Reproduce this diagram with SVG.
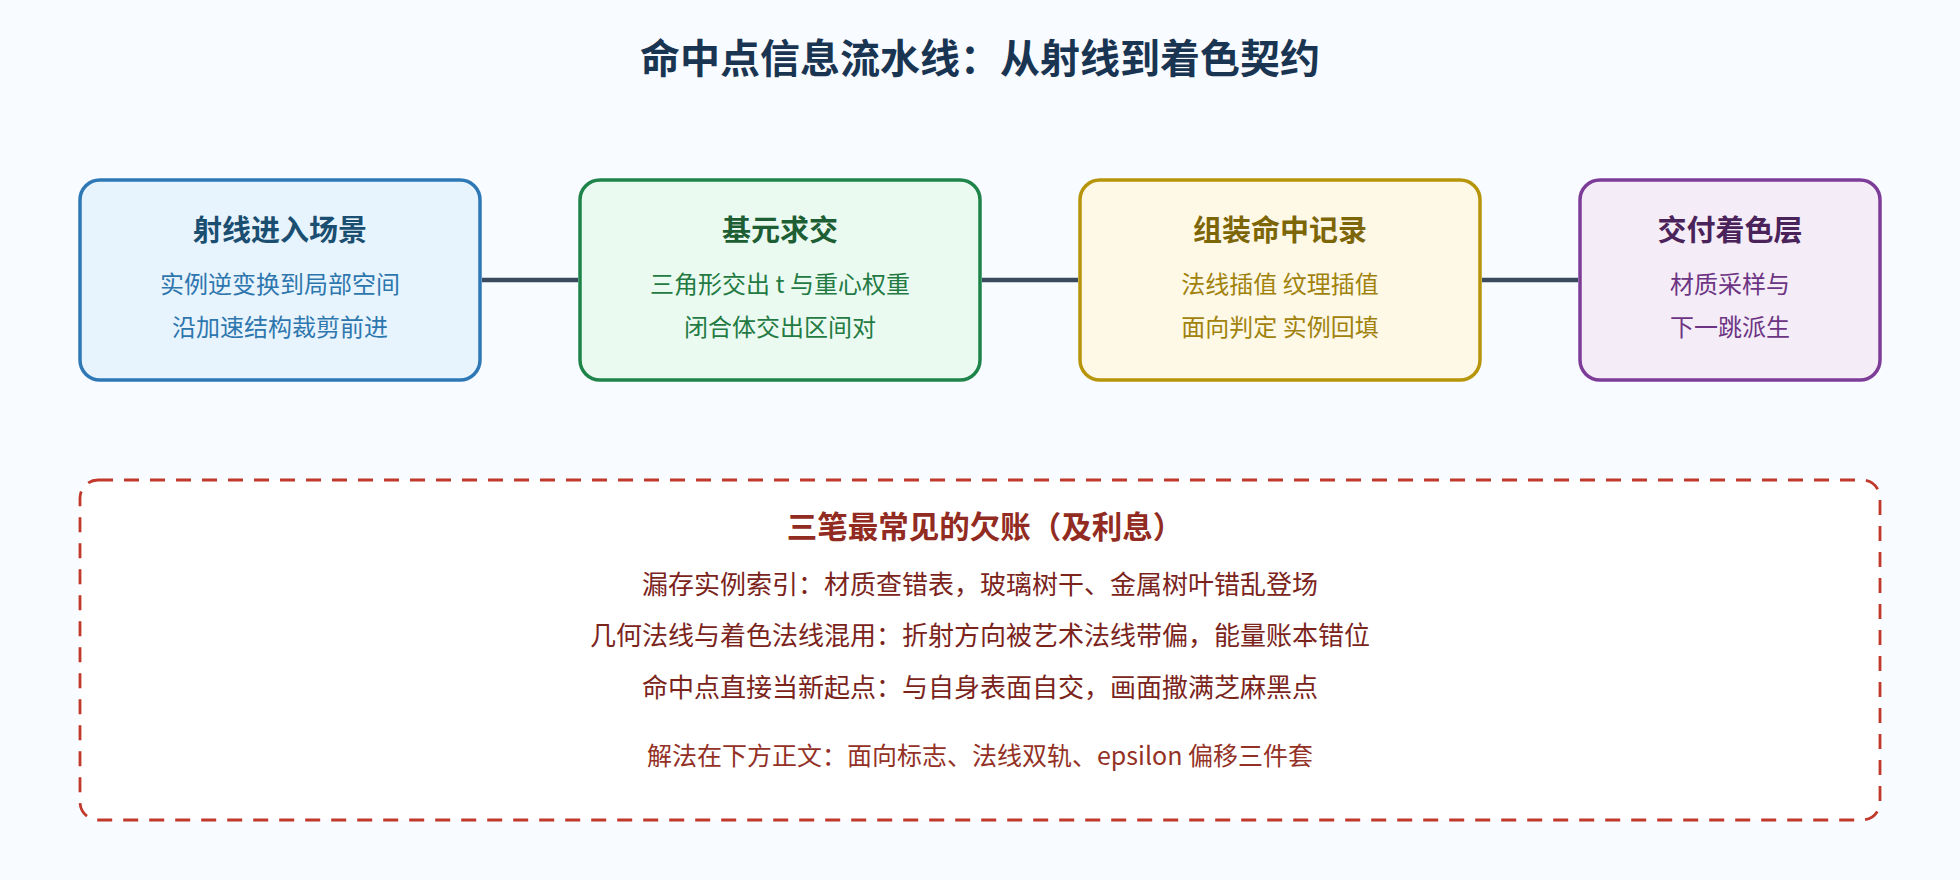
<svg xmlns="http://www.w3.org/2000/svg" width="1960" height="880" viewBox="0 0 1960 880">
  <style>
    text { font-family: "Noto Sans CJK SC", "Noto Sans", sans-serif; text-anchor: middle; }
    .title { font-size: 40px; font-weight: 700; fill: #1a3552; }
    .head { font-size: 29px; font-weight: 700; }
    .sub { font-size: 24px; }
    .box { stroke-width: 3.5; }
    .conn { stroke: #3b4b5e; stroke-width: 4.5; fill: none; }
    .line { font-size: 26px; fill: #7b241c; }
  </style>
  <rect x="0" y="0" width="1960" height="880" fill="#f8fbff"/>
  <text class="title" x="980" y="73">命中点信息流水线：从射线到着色契约</text>

  <g id="connectors">
    <line class="conn" x1="482" y1="280" x2="578" y2="280"/>
    <line class="conn" x1="982" y1="280" x2="1078" y2="280"/>
    <line class="conn" x1="1482" y1="280" x2="1578" y2="280"/>
  </g>

  <g id="node-ray">
    <rect class="box" x="80" y="180" width="400" height="200" rx="20" fill="#e8f4fd" stroke="#2e78b6"/>
    <text class="head" x="280" y="241" fill="#1b4f72">射线进入场景</text>
    <text class="sub" x="280" y="293" fill="#2e77ae">实例逆变换到局部空间</text>
    <text class="sub" x="280" y="336" fill="#2e77ae">沿加速结构裁剪前进</text>
  </g>

  <g id="node-intersect">
    <rect class="box" x="580" y="180" width="400" height="200" rx="20" fill="#eafaf1" stroke="#1e8449"/>
    <text class="head" x="780" y="241" fill="#1d5e34">基元求交</text>
    <text class="sub" x="780" y="293" fill="#237a43" xml:space="preserve">三角形交出 t 与重心权重</text>
    <text class="sub" x="780" y="336" fill="#237a43">闭合体交出区间对</text>
  </g>

  <g id="node-record">
    <rect class="box" x="1080" y="180" width="400" height="200" rx="20" fill="#fef8e7" stroke="#b7950b"/>
    <text class="head" x="1280" y="241" fill="#7d6608">组装命中记录</text>
    <text class="sub" x="1280" y="293" fill="#a0820c">法线插值 纹理插值</text>
    <text class="sub" x="1280" y="336" fill="#a0820c">面向判定 实例回填</text>
  </g>

  <g id="node-shade">
    <rect class="box" x="1580" y="180" width="300" height="200" rx="20" fill="#f4ecf7" stroke="#7d3c98"/>
    <text class="head" x="1730" y="241" fill="#4a235a">交付着色层</text>
    <text class="sub" x="1730" y="293" fill="#6c3483">材质采样与</text>
    <text class="sub" x="1730" y="336" fill="#6c3483">下一跳派生</text>
  </g>

  <g id="node-debts">
    <rect x="80" y="480" width="1800" height="340" rx="18" fill="#ffffff" stroke="#c0392b" stroke-width="2.8" stroke-dasharray="15 11"/>
    <text x="985" y="538" font-size="30.5" font-weight="700" fill="#922b21">三笔最常见的欠账（及利息）</text>
    <text class="line" x="980" y="594">漏存实例索引：材质查错表，玻璃树干、金属树叶错乱登场</text>
    <text class="line" x="980" y="645">几何法线与着色法线混用：折射方向被艺术法线带偏，能量账本错位</text>
    <text class="line" x="980" y="697">命中点直接当新起点：与自身表面自交，画面撒满芝麻黑点</text>
    <text x="980" y="765" font-size="25" fill="#943126">解法在下方正文：面向标志、法线双轨、epsilon 偏移三件套</text>
  </g>
</svg>
